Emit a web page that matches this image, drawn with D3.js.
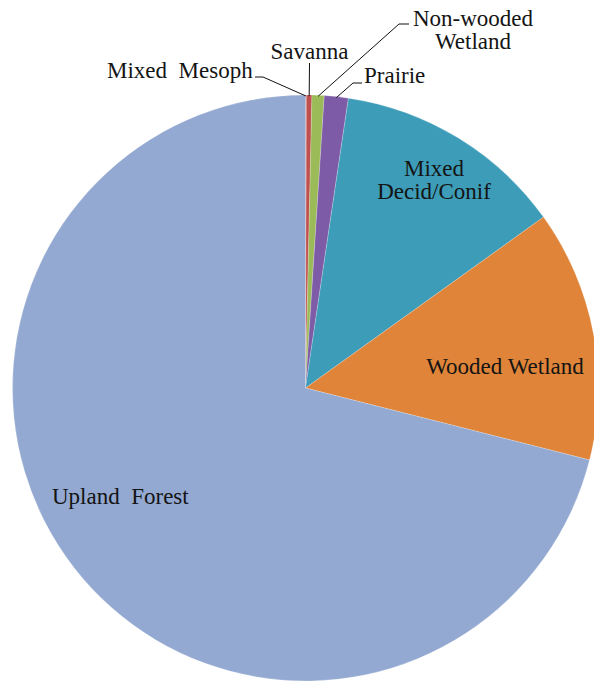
<!DOCTYPE html>
<html>
<head>
<meta charset="utf-8">
<script src="https://cdn.jsdelivr.net/npm/d3@7"></script>
<style>
  html, body { margin: 0; padding: 0; background: #fff; }
  svg { display: block; }
</style>
</head>
<body>
<svg id="chart" width="594" height="681"></svg>
<script>
// ---- data (percent of area) ----
const categories = ["Mixed Mesoph", "Savanna", "Non-wooded Wetland", "Prairie", "Mixed Decid/Conif", "Wooded Wetland", "Upland Forest"];
const values     = [0.05, 0.30, 0.67, 1.32, 12.75, 13.86, 71.05];
const colors     = ["#b84a48", "#c0504d", "#9bbb59", "#7d5ba6", "#3d9cb8", "#df8439", "#93a9d1"];
const labelLines = [["Mixed\u00a0\u00a0Mesoph"], ["Savanna"], ["Non-wooded", "Wetland"], ["Prairie"], ["Mixed", "Decid/Conif"], ["Wooded Wetland"], ["Upland\u00a0\u00a0Forest"]];

// ---- layout ----
const cx = 305.5, cy = 388, R = 293;
const lineH = 23;
const FONT = "Liberation Serif, DejaVu Serif, serif";
const labelLayout = {
  "Mixed Mesoph":       { x: 107, y: 78, anchor: "start",  leader: [[255, 77], [263, 77]] },
  "Savanna":            { x: 309.5, y: 59, anchor: "middle", leader: [[309.5, 63]] },
  "Non-wooded Wetland": { x: 473, y: 26, anchor: "middle", leader: [[409, 24], [399, 24]] },
  "Prairie":            { x: 364, y: 83, anchor: "start",  leader: [[362, 83], [353, 83]] },
  "Mixed Decid/Conif":  { x: 434, y: 176, anchor: "middle", leader: null },
  "Wooded Wetland":     { x: 505, y: 374, anchor: "middle", leader: null },
  "Upland Forest":      { x: 52, y: 504, anchor: "start",  leader: null }
};

const data = categories.map((c, i) => ({ name: c, value: values[i], color: colors[i], lines: labelLines[i] }));

const svg = d3.select("#chart");
const g = svg.append("g").attr("transform", `translate(${cx},${cy})`);

const pie = d3.pie().value(d => d.value).sort(null);
const arc = d3.arc().innerRadius(0).outerRadius(R);
const arcs = pie(data);

g.selectAll("path.slice")
  .data(arcs)
  .join("path")
  .attr("class", "slice")
  .attr("d", arc)
  .attr("fill", d => d.data.color)
  .attr("stroke", "rgba(255,255,255,0.35)")
  .attr("stroke-width", 0.6);

// leader lines
arcs.forEach(a => {
  const L = labelLayout[a.data.name];
  if (!L.leader) return;
  const mid = (a.startAngle + a.endAngle) / 2;
  const px = cx + R * Math.sin(mid), py = cy - R * Math.cos(mid) + 1;
  const pts = L.leader.concat([[px, py]]);
  svg.append("path")
    .attr("d", d3.line()(pts))
    .attr("fill", "none")
    .attr("stroke", "#111")
    .attr("stroke-width", 1);
});

// labels
arcs.forEach(a => {
  const L = labelLayout[a.data.name];
  const t = svg.append("text")
    .attr("x", L.x)
    .attr("y", L.y)
    .style("font-family", FONT)
    .style("font-size", "23px")
    .attr("fill", "#141414")
    .attr("text-anchor", L.anchor);
  a.data.lines.forEach((ln, i) => {
    t.append("tspan").attr("x", L.x).attr("dy", i === 0 ? 0 : lineH).text(ln);
  });
});
</script>
</body>
</html>
